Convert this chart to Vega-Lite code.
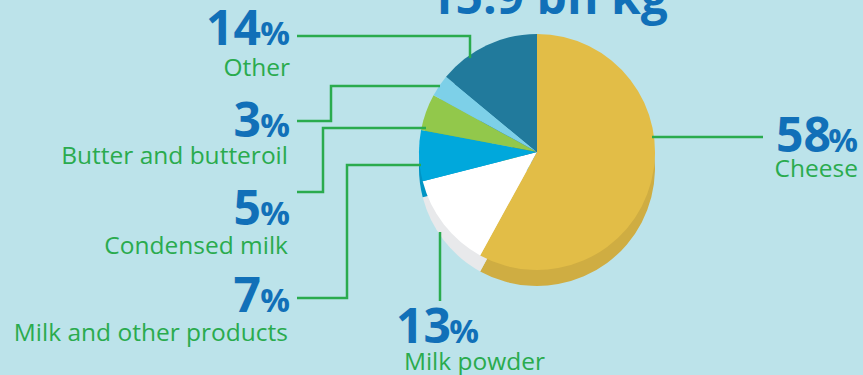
{
  "$schema": "https://vega.github.io/schema/vega-lite/v6.json",
  "width": 863,
  "height": 375,
  "padding": 0,
  "autosize": {"type": "none"},
  "background": "#bce3ea",
  "config": {"view": {"stroke": null}},
  "datasets": {
    "slices": [
      {"category": "Cheese", "share": 58, "order": 1},
      {"category": "Milk powder", "share": 13, "order": 2},
      {"category": "Milk and other products", "share": 7, "order": 3},
      {"category": "Condensed milk", "share": 5, "order": 4},
      {"category": "Butter and butteroil", "share": 3, "order": 5},
      {"category": "Other", "share": 14, "order": 6}
    ],
    "callouts": [
      {"category": "Other", "pct": "14", "numX": 261, "numY": 45, "pctX": 290, "nameX": 290, "nameY": 76},
      {"category": "Butter and butteroil", "pct": "3", "numX": 261, "numY": 137, "pctX": 290, "nameX": 288, "nameY": 164},
      {"category": "Condensed milk", "pct": "5", "numX": 261, "numY": 225, "pctX": 290, "nameX": 288, "nameY": 254},
      {"category": "Milk and other products", "pct": "7", "numX": 261, "numY": 312, "pctX": 290, "nameX": 288, "nameY": 341},
      {"category": "Milk powder", "pct": "13", "numX": 451, "numY": 343, "pctX": 479, "nameX": 545, "nameY": 370},
      {"category": "Cheese", "pct": "58", "numX": 831, "numY": 152, "pctX": 858, "nameX": 858, "nameY": 177}
    ],
    "leaders": [
      {"category": "Other", "step": 1, "x": 297, "y": 36},
      {"category": "Other", "step": 2, "x": 470, "y": 36},
      {"category": "Other", "step": 3, "x": 470, "y": 58},
      {"category": "Butter and butteroil", "step": 1, "x": 297, "y": 121},
      {"category": "Butter and butteroil", "step": 2, "x": 331, "y": 121},
      {"category": "Butter and butteroil", "step": 3, "x": 331, "y": 86},
      {"category": "Butter and butteroil", "step": 4, "x": 440, "y": 86},
      {"category": "Condensed milk", "step": 1, "x": 297, "y": 192},
      {"category": "Condensed milk", "step": 2, "x": 323, "y": 192},
      {"category": "Condensed milk", "step": 3, "x": 323, "y": 128},
      {"category": "Condensed milk", "step": 4, "x": 426, "y": 128},
      {"category": "Milk and other products", "step": 1, "x": 297, "y": 298},
      {"category": "Milk and other products", "step": 2, "x": 347, "y": 298},
      {"category": "Milk and other products", "step": 3, "x": 347, "y": 165},
      {"category": "Milk and other products", "step": 4, "x": 421, "y": 165},
      {"category": "Milk powder", "step": 1, "x": 440, "y": 232},
      {"category": "Milk powder", "step": 2, "x": 440, "y": 301},
      {"category": "Cheese", "step": 1, "x": 652, "y": 137},
      {"category": "Cheese", "step": 2, "x": 763, "y": 137}
    ],
    "heading": [{"label": "15.9 bn kg"}]
  },
  "resolve": {"scale": {"color": "independent"}},
  "layer": [
    {
      "data": {"name": "slices"},
      "mark": {"type": "arc", "outerRadius": 118},
      "encoding": {
        "x": {"datum": 537, "type": "quantitative", "scale": {"domain": [0, 863], "nice": false, "zero": false}, "axis": null},
        "y": {"datum": 168, "type": "quantitative", "scale": {"domain": [0, 375], "nice": false, "zero": false, "reverse": true}, "axis": null},
        "theta": {"field": "share", "type": "quantitative", "stack": true},
        "order": {"field": "order", "type": "quantitative"},
        "color": {"field": "category", "type": "nominal", "legend": null,
          "scale": {"domain": ["Cheese", "Milk powder", "Milk and other products", "Condensed milk", "Butter and butteroil", "Other"],
                    "range": ["#cfad42", "#e8e9eb", "#0094c4", "#80b23f", "#6bbcd3", "#1b6a88"]}}
      }
    },
    {
      "data": {"name": "slices"},
      "mark": {"type": "arc", "outerRadius": 118},
      "encoding": {
        "x": {"datum": 537, "type": "quantitative", "scale": {"domain": [0, 863], "nice": false, "zero": false}, "axis": null},
        "y": {"datum": 152, "type": "quantitative", "scale": {"domain": [0, 375], "nice": false, "zero": false, "reverse": true}, "axis": null},
        "theta": {"field": "share", "type": "quantitative", "stack": true},
        "order": {"field": "order", "type": "quantitative"},
        "color": {"field": "category", "type": "nominal", "legend": null,
          "scale": {"domain": ["Cheese", "Milk powder", "Milk and other products", "Condensed milk", "Butter and butteroil", "Other"],
                    "range": ["#e2bd47", "#ffffff", "#00a8dc", "#92c84b", "#7dd0e8", "#217a9c"]}}
      }
    },
    {
      "data": {"name": "leaders"},
      "mark": {"type": "line", "stroke": "#2aab4e", "strokeWidth": 2.5, "strokeJoin": "miter"},
      "encoding": {
        "x": {"field": "x", "type": "quantitative", "scale": {"domain": [0, 863], "nice": false, "zero": false}, "axis": null},
        "y": {"field": "y", "type": "quantitative", "scale": {"domain": [0, 375], "nice": false, "zero": false, "reverse": true}, "axis": null},
        "detail": {"field": "category", "type": "nominal"},
        "order": {"field": "step", "type": "quantitative"}
      }
    },
    {
      "data": {"name": "callouts"},
      "mark": {"type": "text", "align": "right", "baseline": "alphabetic", "font": "Open Sans", "fontWeight": "bold", "fontSize": 48, "color": "#1170b8"},
      "encoding": {
        "x": {"field": "numX", "type": "quantitative", "scale": {"domain": [0, 863], "nice": false, "zero": false}, "axis": null},
        "y": {"field": "numY", "type": "quantitative", "scale": {"domain": [0, 375], "nice": false, "zero": false, "reverse": true}, "axis": null},
        "text": {"field": "pct", "type": "nominal"}
      }
    },
    {
      "data": {"name": "callouts"},
      "mark": {"type": "text", "align": "right", "baseline": "alphabetic", "font": "Open Sans", "fontWeight": "bold", "fontSize": 33, "color": "#1170b8"},
      "encoding": {
        "x": {"field": "pctX", "type": "quantitative", "scale": {"domain": [0, 863], "nice": false, "zero": false}, "axis": null},
        "y": {"field": "numY", "type": "quantitative", "scale": {"domain": [0, 375], "nice": false, "zero": false, "reverse": true}, "axis": null},
        "text": {"value": "%"}
      }
    },
    {
      "data": {"name": "callouts"},
      "mark": {"type": "text", "align": "right", "baseline": "alphabetic", "font": "Open Sans", "fontSize": 24.5, "color": "#2aab4e"},
      "encoding": {
        "x": {"field": "nameX", "type": "quantitative", "scale": {"domain": [0, 863], "nice": false, "zero": false}, "axis": null},
        "y": {"field": "nameY", "type": "quantitative", "scale": {"domain": [0, 375], "nice": false, "zero": false, "reverse": true}, "axis": null},
        "text": {"field": "category", "type": "nominal"}
      }
    },
    {
      "data": {"name": "heading"},
      "mark": {"type": "text", "align": "center", "baseline": "alphabetic", "font": "Open Sans", "fontWeight": "bold", "fontSize": 48, "color": "#1170b8"},
      "encoding": {
        "x": {"datum": 548, "type": "quantitative", "scale": {"domain": [0, 863], "nice": false, "zero": false}, "axis": null},
        "y": {"datum": 14, "type": "quantitative", "scale": {"domain": [0, 375], "nice": false, "zero": false, "reverse": true}, "axis": null},
        "text": {"field": "label", "type": "nominal"}
      }
    }
  ]
}
